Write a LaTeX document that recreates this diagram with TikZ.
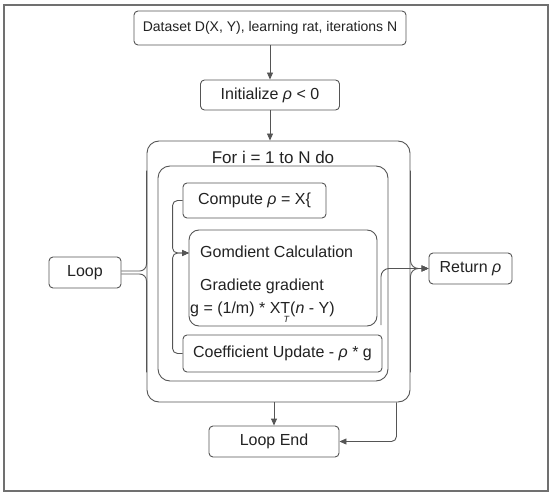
\documentclass[tikz,border=0pt]{standalone}
\usepackage{fontspec}
\setmainfont{Liberation Sans}
\usetikzlibrary{arrows.meta}
\definecolor{linegray}{HTML}{555555}
\definecolor{framegray}{HTML}{707070}
\definecolor{textdark}{HTML}{222222}

\begin{document}
\begin{tikzpicture}[x=1pt,y=-1pt,
    box/.style={draw=linegray, line width=0.9pt, rounded corners=4pt, fill=white, text=textdark,
                inner sep=0pt, font=\fontsize{16}{18}\selectfont},
    container/.style={draw=linegray, line width=0.9pt, rounded corners=12pt, inner sep=0pt},
    link/.style={draw=linegray, line width=0.9pt},
    arr/.style={link, -{Triangle[length=7pt,width=6pt]}}]
    \useasboundingbox (0,0) rectangle (553,497);
    \draw[framegray, line width=2pt] (4,5) rectangle (548,491);

    % loop containers
    \node[container, minimum width=263pt, minimum height=261pt] (forbox) at (278.5,271.5) {};
    \node[container, minimum width=230pt, minimum height=215pt] (body) at (273,273.5) {};
    \node[text=textdark, font=\fontsize{17}{19}\selectfont, anchor=base] (forlbl) at (273,163) {For i = 1 to N do};

    % plain boxes
    \node[box, minimum width=272pt, minimum height=34pt, font=\fontsize{14}{16}\selectfont] (data) at (270,28)
        {Dataset D(X, Y), learning rat, iterations N};
    \node[box, minimum width=139pt, minimum height=30pt] (init) at (270,95) {Initialize \textit{ρ} < 0};
    \node[box, minimum width=72pt, minimum height=31pt] (loopn) at (85,272.5) {Loop};
    \node[box, minimum width=83pt, minimum height=31pt] (ret) at (470.5,268.5) {Return \textit{ρ}};
    \node[box, minimum width=143pt, minimum height=35pt] (compute) at (254.5,200.5) {Compute \textit{ρ} = X\{};
    \node[box, minimum width=199pt, minimum height=37pt] (coef) at (282.5,353.5) {Coefficient Update - \textit{ρ} * g};
    \node[box, minimum width=130pt, minimum height=31pt] (loopend) at (274,441.5) {Loop End};

    % gradient block
    \node[box, rounded corners=10pt, minimum width=188pt, minimum height=96pt] (grad) at (283,278) {};
    \foreach \nm/\px/\py/\txt in {gline1/200/257/{Gomdient Calculation},
                                  gline2/200/290/{Gradiete gradient},
                                  gline3/190/313/{g = (1/m) * XT\llap{\raisebox{-1.1ex}{\fontsize{9}{9}\selectfont\itshape T}\hspace{1pt}}(\textit{n} - Y)}} {
        \node[anchor=base west, inner sep=0pt, text=textdark, font=\fontsize{16}{18}\selectfont] (\nm) at (\px,\py) {\txt};
    }
    \coordinate (gin) at (189,253);
    \coordinate (gout) at (381,325);

    % connectors
    \draw[arr] (data.south -| init.north) -- (init.north);
    \draw[arr] (init.south) -- (init.south |- forbox.north);
    \draw[arr, rounded corners=5pt] (compute.west) -- ++(-10,0) |- (gin);
    \draw[arr, rounded corners=5pt] (coef.west) -- ++(-10,0) |- (gin);
    \draw[link, rounded corners=7pt] ([yshift=1.5pt]loopn.east) -| ([yshift=-30pt]forbox.north west);
    \draw[link, rounded corners=7pt] ([yshift=-1.5pt]loopn.east) -| ([yshift=30pt]forbox.south west);
    \draw[arr, rounded corners=8pt] ([yshift=-30pt]forbox.north east) |- (ret.west);
    \draw[arr, rounded corners=8pt] ([yshift=30pt]forbox.south east) |- (ret.west);
    \draw[arr, rounded corners=8pt] (gout) |- (ret.west);
    \draw[arr] (forbox.south -| loopend.north) -- (loopend.north);
    \draw[arr, rounded corners=5pt] ([xshift=-14pt]forbox.south east) |- (loopend.east);
\end{tikzpicture}
\end{document}
